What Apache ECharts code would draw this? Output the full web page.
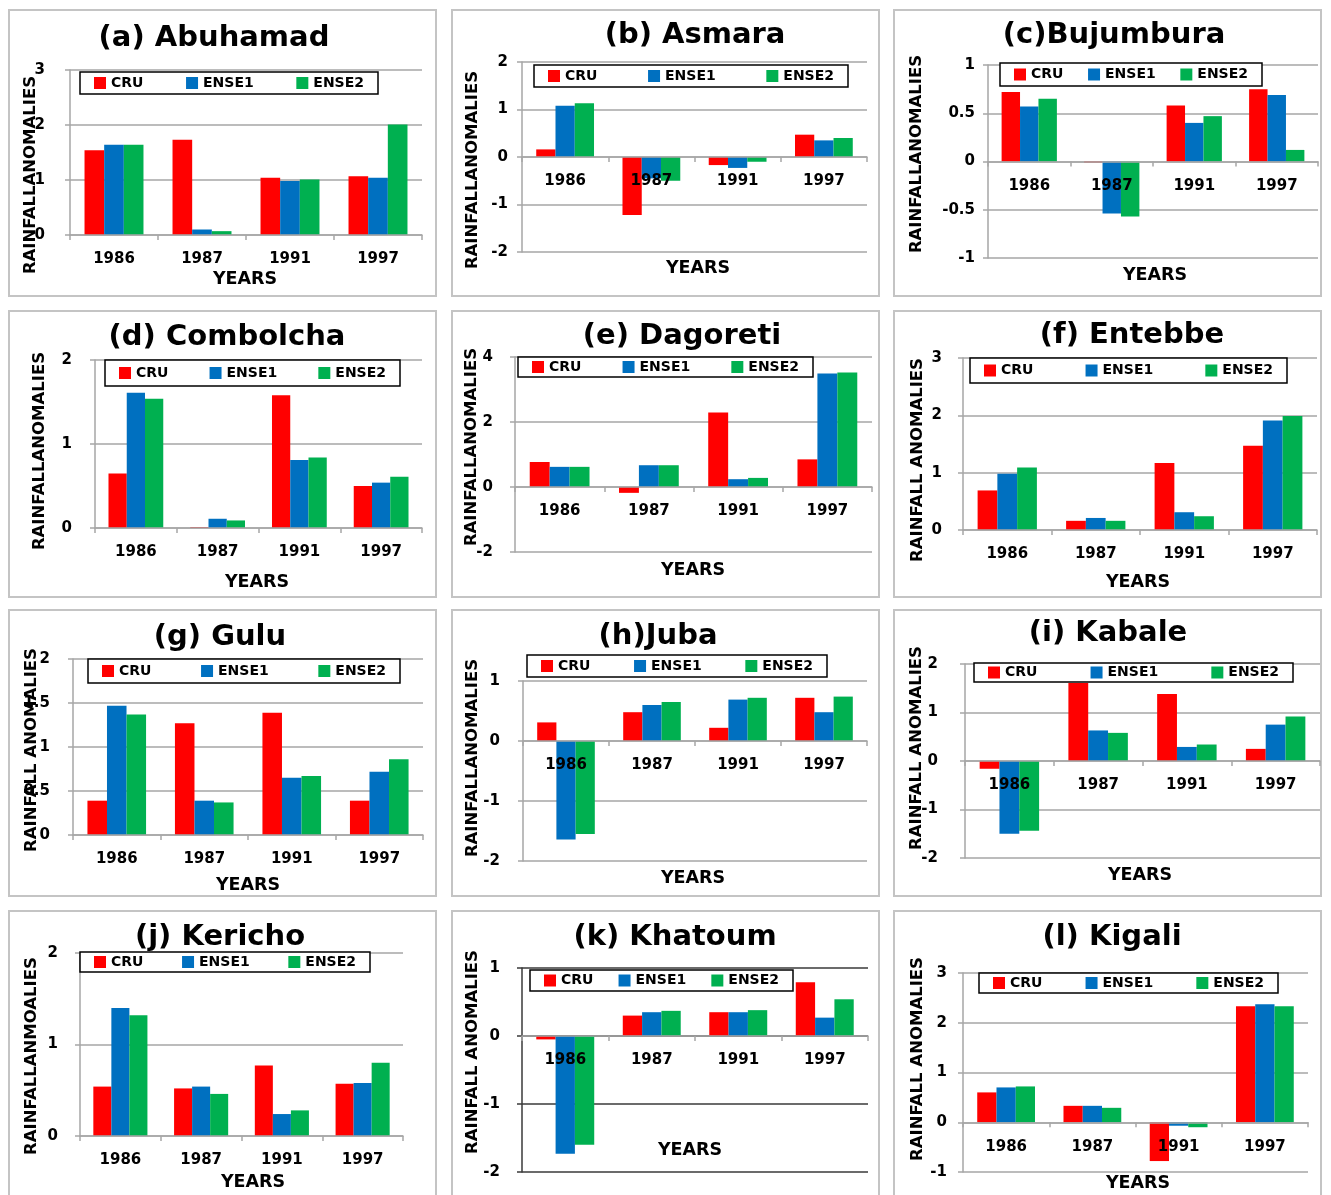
<!DOCTYPE html>
<html>
<head>
<meta charset="utf-8">
<script src="https://cdn.jsdelivr.net/npm/echarts@6/dist/echarts.min.js"></script>
<style>
  html, body { margin: 0; padding: 0; background: #fff; }
  #chart { width: 1331px; height: 1195px; }
</style>
</head>
<body>
<div id="chart"></div>
<script>
// categories and series
const years = ["1986", "1987", "1991", "1997"];
const seriesNames = ["CRU", "ENSE1", "ENSE2"];
const colors = ["#FF0000", "#0070C0", "#00B050"];

const titles = ["(a) Abuhamad", "(b) Asmara", "(c)Bujumbura", "(d) Combolcha", "(e) Dagoreti", "(f) Entebbe",
  "(g) Gulu", "(h)Juba", "(i) Kabale", "(j) Kericho", "(k) Khatoum", "(l) Kigali"];
const yNames = ["RAINFALLANOMALIES", "RAINFALLANOMALIES", "RAINFALLANOMALIES", "RAINFALLANOMALIES",
  "RAINFALLANOMALIES", "RAINFALL ANOMALIES", "RAINFALL ANOMALIES", "RAINFALLANOMALIES",
  "RAINFALL ANOMALIES", "RAINFALLANMOALIES", "RAINFALL ANOMALIES", "RAINFALL ANOMALIES"];

// [CRU, ENSE1, ENSE2] per station
const abuhamad  = [[1.54, 1.73, 1.04, 1.07], [1.64, 0.10, 0.98, 1.04], [1.64, 0.07, 1.01, 2.01]];
const asmara    = [[0.16, -1.22, -0.17, 0.47], [1.08, -0.45, -0.23, 0.35], [1.13, -0.50, -0.10, 0.40]];
const bujumbura = [[0.72, -0.01, 0.58, 0.75], [0.57, -0.54, 0.40, 0.69], [0.65, -0.57, 0.47, 0.12]];
const combolcha = [[0.65, 0.01, 1.58, 0.50], [1.61, 0.11, 0.81, 0.54], [1.54, 0.09, 0.84, 0.61]];
const dagoreti  = [[0.77, -0.18, 2.29, 0.85], [0.62, 0.67, 0.24, 3.49], [0.62, 0.67, 0.28, 3.52]];
const entebbe   = [[0.69, 0.16, 1.17, 1.47], [0.98, 0.21, 0.31, 1.91], [1.09, 0.16, 0.24, 1.99]];
const gulu      = [[0.39, 1.27, 1.39, 0.39], [1.47, 0.39, 0.65, 0.72], [1.37, 0.37, 0.67, 0.86]];
const juba      = [[0.31, 0.48, 0.22, 0.72], [-1.64, 0.60, 0.69, 0.48], [-1.55, 0.65, 0.72, 0.74]];
const kabale    = [[-0.16, 1.61, 1.38, 0.25], [-1.50, 0.63, 0.29, 0.75], [-1.44, 0.58, 0.34, 0.92]];
const kericho   = [[0.54, 0.52, 0.77, 0.57], [1.40, 0.54, 0.24, 0.58], [1.32, 0.46, 0.28, 0.80]];
const khatoum   = [[-0.05, 0.30, 0.35, 0.79], [-1.73, 0.35, 0.35, 0.27], [-1.60, 0.37, 0.38, 0.54]];
const kigali    = [[0.60, 0.33, -0.78, 2.33], [0.70, 0.33, -0.07, 2.37], [0.72, 0.29, -0.10, 2.33]];
const stations = [abuhamad, asmara, bujumbura, combolcha, dagoreti, entebbe, gulu, juba, kabale, kericho, khatoum, kigali];

// y axis ticks: min, max, step
const yMin  = [0, -2, -1, 0, -2, 0, 0, -2, -2, 0, -2, -1];
const yMax  = [3, 2, 1, 2, 4, 3, 2, 1, 2, 2, 1, 3];
const yStep = [1, 1, 0.5, 1, 2, 1, 0.5, 1, 1, 1, 1, 1];

// layout (page pixels): plot [l,t,r,b], legend [x,y,w,h], title [cx,cy], y name [x,cy], YEARS [cx,cy], label margin
const panels = [[9, 10], [452, 10], [894, 10], [9, 311], [452, 311], [894, 311],
  [9, 610], [452, 610], [894, 610], [9, 911], [452, 911], [894, 911]];
const layout = [
  { plot: [70, 70, 422, 235], lg: [80, 72, 298, 23], t: [214, 38], yn: [31, 175], yr: [245, 279], lm: 25 },
  { plot: [522, 62, 867, 252], lg: [534, 65, 314, 23], t: [695, 35], yn: [473, 170], yr: [698, 268], lm: 14 },
  { plot: [988, 65, 1318, 258], lg: [1000, 63, 262, 24], t: [1114, 35], yn: [917, 154], yr: [1155, 275], lm: 13 },
  { plot: [95, 360, 422, 528], lg: [105, 360, 295, 27], t: [227, 337], yn: [40, 451], yr: [257, 582], lm: 23 },
  { plot: [515, 357, 872, 552], lg: [518, 357, 295, 21], t: [682, 336], yn: [472, 447], yr: [693, 570], lm: 22 },
  { plot: [963, 358, 1317, 530], lg: [970, 358, 317, 26], t: [1132, 335], yn: [918, 460], yr: [1138, 582], lm: 21 },
  { plot: [73, 659, 423, 835], lg: [88, 659, 312, 25], t: [220, 637], yn: [32, 750], yr: [248, 885], lm: 23 },
  { plot: [523, 681, 867, 861], lg: [527, 655, 300, 23], t: [658, 636], yn: [473, 758], yr: [693, 878], lm: 23 },
  { plot: [965, 664, 1320, 858], lg: [974, 663, 319, 20], t: [1108, 633], yn: [917, 748], yr: [1140, 875], lm: 27 },
  { plot: [80, 953, 403, 1136], lg: [80, 952, 290, 21], t: [220, 937], yn: [32, 1056], yr: [253, 1182], lm: 22 },
  { plot: [522, 968, 868, 1172], lg: [530, 970, 263, 22], t: [675, 937], yn: [473, 1052], yr: [690, 1150], lm: 22 },
  { plot: [963, 973, 1308, 1172], lg: [979, 973, 299, 21], t: [1112, 937], yn: [918, 1059], yr: [1138, 1183], lm: 16 }
];

const FONT = '"DejaVu Sans", sans-serif';
const ctx = document.createElement("canvas").getContext("2d");
ctx.font = 'bold 14px "DejaVu Sans"';
const legendContent = seriesNames.reduce((s, n) => s + 12 + 5 + ctx.measureText(n).width, 0);

const grid = [], xAxis = [], yAxis = [], legend = [], series = [], elements = [];

layout.forEach((L, i) => {
  const gridColor = i === 10 ? "#3a3a3a" : "#A6A6A6";
  const h = L.plot[3] - L.plot[1];
  // lift the category axis up to the zero line of its value axis
  const zeroLift = (0 - yMin[i]) / (yMax[i] - yMin[i]) * h;
  grid.push({ left: L.plot[0], top: L.plot[1], width: L.plot[2] - L.plot[0], height: h });
  xAxis.push({
    type: "category", gridIndex: i, data: years, z: 5, position: "bottom", offset: -zeroLift,
    axisLine: { onZero: false, lineStyle: { color: "#A6A6A6", width: 1.5 } },
    axisTick: { show: true, length: 5, lineStyle: { color: "#A6A6A6", width: 1.5 } },
    axisLabel: { color: "#000", fontWeight: "bold", fontSize: 15, fontFamily: FONT, margin: 17 }
  });
  yAxis.push({
    type: "value", gridIndex: i, min: yMin[i], max: yMax[i], interval: yStep[i],
    axisLine: { show: true, lineStyle: { color: gridColor, width: 1.5 } },
    axisTick: { show: true, length: 5, lineStyle: { color: gridColor, width: 1.5 } },
    splitLine: { lineStyle: { color: gridColor, width: 1.5 } },
    axisLabel: { color: "#000", fontWeight: "bold", fontSize: 15, fontFamily: FONT, margin: L.lm }
  });
  const padH = 14;
  legend.push({
    left: L.lg[0], top: L.lg[1], orient: "horizontal", data: seriesNames,
    icon: "rect", itemWidth: 12, itemHeight: 12, selectedMode: false,
    itemGap: Math.max(8, (L.lg[2] - 2 * padH - legendContent) / 2),
    padding: [Math.max(2, (L.lg[3] - 15) / 2), padH],
    borderColor: "#000", borderWidth: 1.5, backgroundColor: "#fff",
    textStyle: { color: "#000", fontSize: 14, fontWeight: "bold", fontFamily: FONT }
  });
  seriesNames.forEach((name, k) => {
    series.push({
      type: "bar", name: name, xAxisIndex: i, yAxisIndex: i,
      data: stations[i][k], itemStyle: { color: colors[k] },
      barGap: "0%", barCategoryGap: "33%"
    });
  });
  // panel frame
  elements.push({
    type: "rect", z: -1,
    shape: { x: panels[i][0], y: panels[i][1], width: 427, height: i >= 9 ? 300 : 286 },
    style: { fill: "none", stroke: "#C4C4C4", lineWidth: 2 }
  });
  elements.push({
    type: "text", x: L.t[0], y: L.t[1], z: 10,
    style: { text: titles[i], fill: "#000", font: "bold 29px " + FONT,
      textAlign: "center", textVerticalAlign: "middle", align: "center", verticalAlign: "middle" }
  });
  elements.push({
    type: "text", x: L.yn[0], y: L.yn[1], rotation: Math.PI / 2, z: 10,
    style: { text: yNames[i], fill: "#000", font: "bold 16.5px " + FONT,
      textAlign: "center", textVerticalAlign: "middle", align: "center", verticalAlign: "middle" }
  });
  elements.push({
    type: "text", x: L.yr[0], y: L.yr[1], z: 10,
    style: { text: "YEARS", fill: "#000", font: "bold 17.5px " + FONT,
      textAlign: "center", textVerticalAlign: "middle", align: "center", verticalAlign: "middle" }
  });
});

const chart = echarts.init(document.getElementById("chart"));
chart.setOption({
  backgroundColor: "#fff",
  animation: false,
  grid: grid,
  xAxis: xAxis,
  yAxis: yAxis,
  legend: legend,
  series: series,
  graphic: { elements: elements }
});
</script>
</body>
</html>
